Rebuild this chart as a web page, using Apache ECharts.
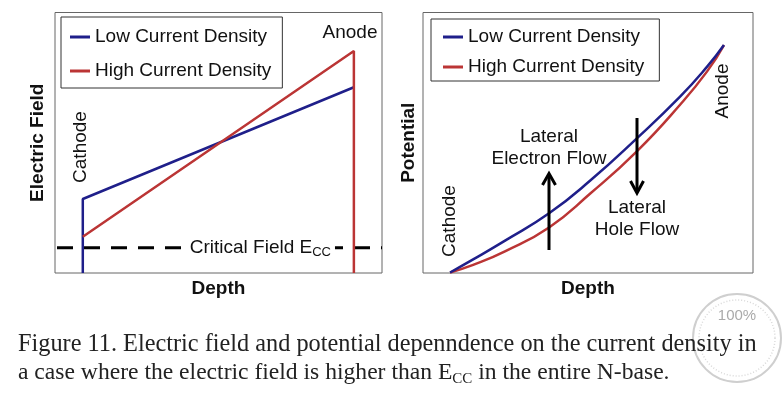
<!DOCTYPE html>
<html><head><meta charset="utf-8">
<script src="https://cdn.jsdelivr.net/npm/echarts@6/dist/echarts.min.js"></script>
<style>html,body{margin:0;padding:0;background:#fff}#c{width:782px;height:395px}</style>
</head><body><div id="c"></div>
<script>
// ---- data ----
const legendNames = ['Low Current Density', 'High Current Density'];
// Left panel: electric field vs depth (cathode, anode)
const fieldDepth = [8.5, 91.4];
const fieldLow = [28.4, 71.3];
const fieldHigh = [13.9, 85.2];
const criticalField = 9.7;
// Right panel: potential vs depth
const potDepth = [8.2, 15.2, 25.0, 38.2, 50.6, 64.8, 77.9, 86.1, 91.2];
const potLow   = [0.2, 5.2, 12.5, 22.9, 35.4, 51.7, 67.7, 79.2, 87.5];
const potHigh  = [0.2, 3.1, 8.4, 17.5, 30.4, 46.7, 64.6, 77.4, 87.5];

const BLUE = '#1f1f8a', RED = '#bb3535';
const SANS = 'Liberation Sans, Arial, sans-serif';
const SERIF = 'Liberation Serif, Times New Roman, serif';

const chart = echarts.init(document.getElementById('c'), null, {renderer: 'canvas'});

function axisBase(grid, name, gap) {
  return {
    gridIndex: grid, type: 'value', min: 0, max: 100,
    axisLine: {show: false}, axisTick: {show: false}, axisLabel: {show: false}, splitLine: {show: false},
    name: name, nameLocation: 'middle', nameGap: gap,
    nameTextStyle: {fontSize: 19, fontWeight: 'bold', color: '#111', fontFamily: SANS}
  };
}
function legendBase(left, top, padding, gap) {
  return {
    data: legendNames, left: left, top: top, orient: 'vertical', icon: 'rect',
    itemWidth: 20, itemHeight: 3, itemGap: gap, padding: padding,
    borderColor: '#333', borderWidth: 1, selectedMode: false,
    textStyle: {fontSize: 19, color: '#111', fontFamily: SANS, lineHeight: 20}
  };
}
const lineCommon = {type: 'line', symbol: 'none', silent: true};

const option = {
  animation: false,
  backgroundColor: '#fff',
  grid: [
    {left: 55, top: 12.5, width: 327, height: 260.5, show: true, borderColor: '#666', borderWidth: 1},
    {left: 423, top: 12.5, width: 330, height: 260.5, show: true, borderColor: '#666', borderWidth: 1}
  ],
  xAxis: [axisBase(0, 'Depth', 6), axisBase(1, 'Depth', 6)],
  yAxis: [axisBase(0, 'Electric Field', 8), axisBase(1, 'Potential', 5)],
  legend: [
    legendBase(61, 17, [10, 11, 7, 9], 14),
    legendBase(431, 19, [8, 15, 4, 12], 10)
  ],
  series: [
    Object.assign({}, lineCommon, {
      name: 'Critical Field', xAxisIndex: 0, yAxisIndex: 0, z: 2,
      data: [[0, criticalField], [100, criticalField]],
      lineStyle: {color: '#000', width: 3, type: [16, 11], dashOffset: -2}
    }),
    Object.assign({}, lineCommon, {
      name: legendNames[0], xAxisIndex: 0, yAxisIndex: 0, z: 3, color: BLUE,
      data: [[fieldDepth[0], 0], [fieldDepth[0], fieldLow[0]], [fieldDepth[1], fieldLow[1]]],
      lineStyle: {color: BLUE, width: 2.5}
    }),
    Object.assign({}, lineCommon, {
      name: legendNames[1], xAxisIndex: 0, yAxisIndex: 0, z: 4, color: RED,
      data: [[fieldDepth[0], fieldHigh[0]], [fieldDepth[1], fieldHigh[1]], [fieldDepth[1], 0]],
      lineStyle: {color: RED, width: 2.5}
    }),
    Object.assign({}, lineCommon, {
      name: legendNames[0], xAxisIndex: 1, yAxisIndex: 1, z: 4, color: BLUE,
      smooth: 0.5,
      data: potDepth.map((d, i) => [d, potLow[i]]),
      lineStyle: {color: BLUE, width: 2.5}
    }),
    Object.assign({}, lineCommon, {
      name: legendNames[1], xAxisIndex: 1, yAxisIndex: 1, z: 3, color: RED,
      smooth: 0.5,
      data: potDepth.map((d, i) => [d, potHigh[i]]),
      lineStyle: {color: RED, width: 2.5}
    })
  ],
  graphic: [
    // watermark stamp (faint)
    {type: 'circle', z: 0, shape: {cx: 737, cy: 338, r: 44}, style: {fill: 'none', stroke: '#cfcfcf', lineWidth: 2}},
    {type: 'circle', z: 0, shape: {cx: 737, cy: 338, r: 38}, style: {fill: 'none', stroke: '#d8d8d8', lineWidth: 1.5, lineDash: [1, 2]}},
    {type: 'text', z: 0, style: {x: 737, y: 316, text: '100%', align: 'center', verticalAlign: 'middle', fontSize: 15, fontFamily: SANS, fill: '#aaa'}},
    // left panel annotations
    {type: 'text', z: 10, style: {x: 350, y: 33, text: 'Anode', align: 'center', verticalAlign: 'middle', fontSize: 19, fontFamily: SANS, fill: '#111'}},
    {type: 'text', z: 10, x: 81, y: 147, rotation: Math.PI / 2,
      style: {x: 0, y: 0, text: 'Cathode', align: 'center', verticalAlign: 'middle', fontSize: 19, fontFamily: SANS, fill: '#111'}},
    // right panel annotations
    {type: 'text', z: 10, x: 450, y: 221, rotation: Math.PI / 2,
      style: {x: 0, y: 0, text: 'Cathode', align: 'center', verticalAlign: 'middle', fontSize: 19, fontFamily: SANS, fill: '#111'}},
    {type: 'text', z: 10, x: 723, y: 91, rotation: Math.PI / 2,
      style: {x: 0, y: 0, text: 'Anode', align: 'center', verticalAlign: 'middle', fontSize: 19, fontFamily: SANS, fill: '#111'}},
    {type: 'text', z: 10, style: {x: 549, y: 147.5, text: 'Lateral\nElectron Flow', align: 'center', verticalAlign: 'middle', lineHeight: 22, fontSize: 19, fontFamily: SANS, fill: '#111'}},
    {type: 'text', z: 10, style: {x: 637, y: 219, text: 'Lateral\nHole Flow', align: 'center', verticalAlign: 'middle', lineHeight: 22, fontSize: 19, fontFamily: SANS, fill: '#111'}},
    // arrows
    {type: 'line', z: 10, shape: {x1: 549, y1: 250, x2: 549, y2: 175}, style: {stroke: '#000', lineWidth: 3}},
    {type: 'polyline', z: 10, shape: {points: [[542.5, 185], [549, 173.5], [555.5, 185]]}, style: {stroke: '#000', lineWidth: 3, fill: 'none'}},
    {type: 'line', z: 10, shape: {x1: 637, y1: 118, x2: 637, y2: 191}, style: {stroke: '#000', lineWidth: 3}},
    {type: 'polyline', z: 10, shape: {points: [[630.5, 181], [637, 193], [643.5, 181]]}, style: {stroke: '#000', lineWidth: 3, fill: 'none'}},
    // caption
    {type: 'text', z: 10, style: {x: 18, y: 345, text: 'Figure 11. Electric field and potential depenndence on the current density in', verticalAlign: 'middle', fontSize: 24.3, fontFamily: SERIF, fill: '#222'}},
    {type: 'text', z: 10, style: {x: 18, y: 373, verticalAlign: 'middle',
      text: '{m|a case where the electric field is higher than E}{s|CC}{m| in the entire N-base.}',
      rich: {
        m: {fontSize: 23.6, lineHeight: 28, fontFamily: SERIF, fill: '#222'},
        s: {fontSize: 15, lineHeight: 20, fontFamily: SERIF, fill: '#222', verticalAlign: 'bottom'}
      }}}
  ]
};
chart.setOption(option);

// Critical field label, anchored at a data position on the left panel
const labelAnchor = chart.convertToPixel({gridIndex: 0}, [62.8, criticalField]);
chart.setOption({
  graphic: option.graphic.concat([{
    type: 'text', z: 20, x: labelAnchor[0], y: labelAnchor[1],
    style: {
      x: 0, y: 0, align: 'center', verticalAlign: 'middle',
      backgroundColor: '#fff', padding: [2, 4],
      text: '{m|Critical Field E}{s|CC}',
      rich: {
        m: {fontSize: 19, lineHeight: 22, fill: '#111', fontFamily: SANS},
        s: {fontSize: 13, lineHeight: 16, fill: '#111', fontFamily: SANS, verticalAlign: 'bottom'}
      }
    }
  }])
});
</script>
</body></html>
